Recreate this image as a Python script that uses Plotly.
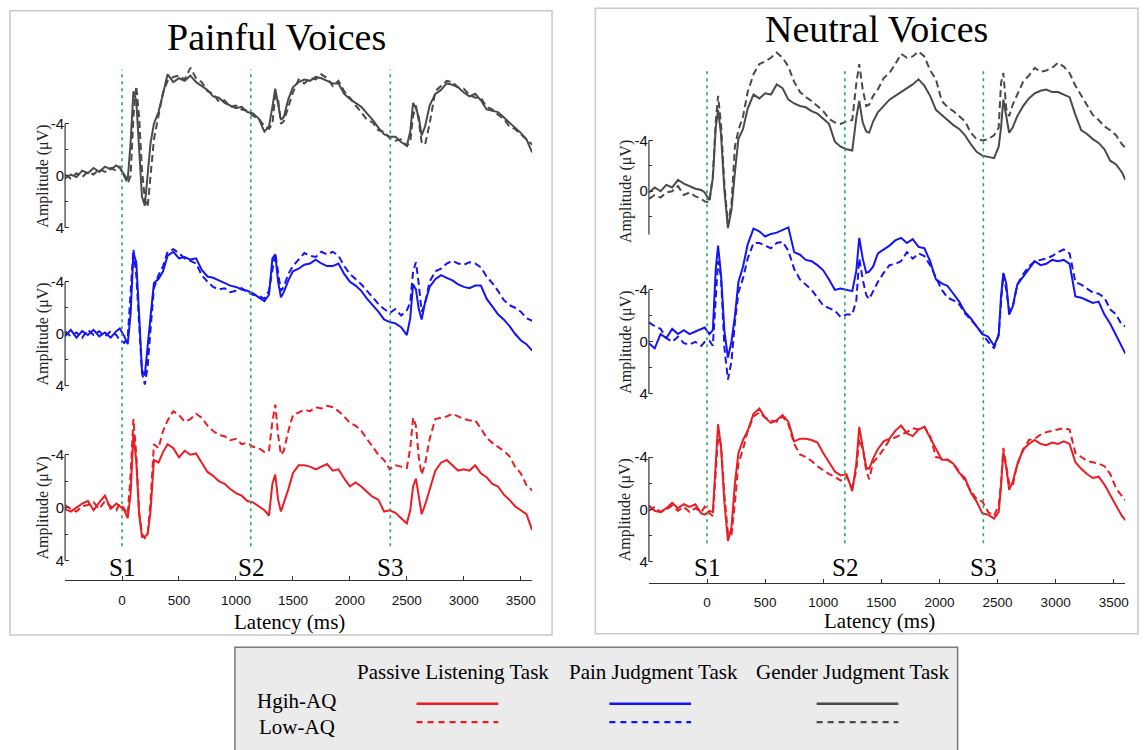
import plotly.graph_objects as go

W, H = 1146, 750

# ---------------- data (latency in ms, amplitude in microvolts) ----------------
T_LEFT = [-500, -450, -400, -350, -300, -250, -200, -150, -100, -50,
          -20, 20, 50, 75, 100, 125, 150, 175, 200, 225,
          250, 280, 320, 360, 400, 450, 500, 550, 600, 650,
          700, 750, 800, 850, 900, 950, 1000, 1050, 1100, 1150,
          1200, 1250, 1290, 1320, 1345, 1370, 1395, 1420, 1460, 1500,
          1550, 1600, 1650, 1700, 1750, 1800, 1850, 1900, 1950, 2000,
          2050, 2100, 2150, 2200, 2250, 2300, 2350, 2400, 2450, 2500,
          2530, 2555, 2580, 2605, 2630, 2660, 2700, 2750, 2800, 2850,
          2900, 2950, 3000, 3050, 3100, 3150, 3200, 3250, 3300, 3350,
          3400, 3450, 3500, 3550, 3600]

T_RIGHT = [-500, -450, -400, -350, -300, -250, -200, -150, -100, -50,
           -20, 20, 50, 75, 95, 120, 150, 180, 210, 240,
           270, 310, 350, 400, 450, 500, 550, 600, 650, 700,
           750, 800, 850, 900, 950, 1000, 1050, 1100, 1150, 1200,
           1250, 1285, 1310, 1340, 1370, 1395, 1430, 1470, 1520, 1570,
           1620, 1670, 1720, 1770, 1820, 1870, 1920, 1970, 2020, 2070,
           2120, 2170, 2220, 2270, 2320, 2370, 2420, 2470, 2510, 2530,
           2550, 2575, 2600, 2630, 2670, 2720, 2770, 2820, 2870, 2920,
           2970, 3020, 3070, 3120, 3170, 3220, 3270, 3320, 3370, 3420,
           3470, 3520, 3570, 3600]

ONSETS_LEFT = [0, 1130, 2355]
ONSETS_RIGHT = [0, 1186, 2378]
ONSET_LABELS = ["S1", "S2", "S3"]

X_RANGE = [-500, 3600]
X_TICKS = [-500, 0, 500, 1000, 1500, 2000, 2500, 3000, 3500, 3600]
X_TICKTEXT = ["", "0", "500", "1000", "1500", "2000", "2500", "3000", "3500", ""]
Y_TICKS = [-4, 0, 4]
Y_TICKTEXT = ["-4", "0", "4"]
Y_MINOR = [-2, 2]

# Painful voices
PAIN_GENDER_HIGH = [0.2, -0.1, 0.1, -0.4, -0.2, -0.6, -0.3, -0.7, -0.5, -0.8,
                    -0.6, -0.1, 0.3, -2.5, -6.5, -5.8, -2.5, 1.6, 2.3, -0.1,
                    -2.5, -4.0, -4.9, -6.3, -7.8, -7.2, -7.5, -7.3, -7.7, -7.2,
                    -6.9, -6.6, -6.1, -6.0, -5.6, -5.4, -5.2, -5.3, -4.9, -4.8,
                    -4.4, -3.4, -3.8, -5.3, -6.7, -5.5, -4.3, -4.5, -5.9, -6.8,
                    -7.2, -7.4, -7.3, -7.6, -7.5, -7.3, -7.1, -7.1, -6.3, -5.9,
                    -5.6, -5.3, -4.8, -4.3, -3.7, -3.2, -3.0, -3.0, -2.6, -2.3,
                    -3.4, -5.6, -5.2, -4.5, -3.1, -3.8, -5.4, -6.3, -6.6, -7.1,
                    -7.0, -6.8, -6.4, -6.1, -6.3, -5.8, -5.1, -5.0, -4.9, -4.5,
                    -4.1, -3.7, -3.3, -2.8, -1.8]
PAIN_GENDER_LOW = [-0.1, 0.2, -0.2, 0.1, -0.3, -0.1, -0.5, -0.3, -0.6, -0.4,
                   -0.7, 0.0, 0.6, 0.0, -4.5, -6.9, -4.5, -0.5, 1.8, 2.4,
                   0.0, -2.8, -4.6, -6.4, -7.3, -7.6, -7.7, -7.4, -8.3, -7.5,
                   -7.2, -6.5, -6.3, -5.7, -5.8, -5.3, -5.4, -5.1, -5.0, -4.6,
                   -4.4, -3.8, -3.6, -4.0, -6.2, -5.9, -4.0, -4.2, -5.3, -6.4,
                   -7.4, -7.1, -7.5, -7.4, -7.8, -7.5, -6.9, -7.3, -6.5, -6.0,
                   -5.4, -4.9, -4.3, -4.1, -3.5, -3.4, -2.9, -2.7, -2.8, -2.3,
                   -2.6, -4.6, -5.4, -4.2, -2.6, -2.4, -4.0, -6.5, -6.9, -7.3,
                   -7.2, -6.8, -6.7, -6.2, -6.0, -6.0, -5.3, -5.1, -4.7, -4.4,
                   -3.8, -3.6, -3.2, -2.8, -2.4]
PAIN_PAIN_HIGH = [0.2, -0.3, 0.3, -0.2, 0.1, -0.3, 0.2, -0.1, 0.3, -0.2,
                  -0.4, 0.2, 0.8, -1.5, -6.2, -5.5, -1.5, 2.8, 3.2, 1.2,
                  -1.3, -3.9, -4.2, -4.8, -6.0, -6.3, -5.8, -5.9, -5.7, -5.8,
                  -4.9, -4.4, -4.3, -4.1, -3.9, -3.7, -3.6, -3.4, -3.3, -3.1,
                  -2.8, -2.5, -3.0, -5.8, -6.1, -4.0, -2.8, -3.2, -4.1, -4.8,
                  -5.0, -5.3, -5.4, -5.7, -5.4, -5.2, -5.2, -5.4, -4.6, -4.0,
                  -3.7, -3.3, -2.7, -2.2, -1.7, -1.1, -0.9, -0.8, -0.5, 0.1,
                  -1.2, -3.8, -3.4, -1.9, -1.1, -2.4, -3.6, -4.2, -4.5, -4.3,
                  -4.1, -3.8, -3.6, -3.5, -3.7, -3.7, -2.7, -2.1, -1.5, -1.1,
                  -0.6, 0.0, 0.5, 0.8, 1.3]
PAIN_PAIN_LOW = [-0.2, 0.2, -0.1, 0.3, -0.3, 0.1, -0.2, 0.2, -0.2, 0.1,
                 0.5, 0.7, 0.3, -3.5, -6.5, -4.5, -0.5, 3.0, 3.9, 2.5,
                 -0.3, -3.5, -4.5, -5.2, -6.3, -6.5, -6.2, -5.8, -5.6, -5.4,
                 -4.5, -4.0, -3.6, -3.4, -3.5, -3.2, -3.3, -3.5, -3.2, -3.0,
                 -2.9, -2.7, -3.3, -5.0, -6.2, -4.7, -3.3, -3.6, -4.6, -5.2,
                 -5.7, -6.2, -6.0, -5.9, -6.3, -6.1, -6.3, -6.0, -5.2, -4.6,
                 -4.2, -3.8, -3.3, -2.8, -2.3, -1.9, -1.6, -1.9, -1.4, -1.8,
                 -2.4, -4.8, -5.5, -3.8, -1.7, -2.3, -4.0, -4.8, -5.0, -5.4,
                 -5.6, -5.4, -5.3, -5.5, -5.4, -5.1, -4.4, -3.9, -3.3, -2.6,
                 -2.2, -2.0, -1.7, -1.2, -1.0]
PAIN_PASSIVE_HIGH = [0.1, 0.3, 0.0, -0.3, -0.5, 0.2, -0.4, -0.9, 0.1, -0.3,
                     -0.1, 0.2, 0.8, -1.0, -5.6, -3.5, 0.5, 2.2, 2.2, 2.0,
                     0.3, -3.6, -3.4, -4.2, -4.8, -4.5, -3.8, -4.3, -4.0, -4.1,
                     -3.4, -2.7, -2.4, -2.0, -1.8, -1.4, -1.1, -0.9, -0.5, -0.4,
                     -0.1, 0.2, 0.6, -1.8, -2.5, -0.6, 0.3, -0.3, -1.4, -2.6,
                     -3.2, -3.2, -3.1, -2.9, -3.1, -3.3, -2.8, -2.9, -2.2, -1.6,
                     -1.9, -1.6, -1.2, -0.8, -0.6, 0.3, 0.2, 0.4, 0.8, 1.2,
                     0.2, -1.6, -2.2, -0.8, 0.5, -0.2, -1.3, -2.8, -3.4, -3.6,
                     -3.2, -2.8, -2.9, -2.8, -3.2, -2.6, -2.3, -1.8, -1.6, -1.0,
                     -0.6, -0.1, 0.2, 0.5, 1.7]
PAIN_PASSIVE_LOW = [-0.2, 0.1, 0.3, -0.1, -0.2, -0.4, 0.1, -0.5, -0.1, 0.2,
                    -0.3, 0.1, 0.5, -2.5, -6.7, -4.0, 0.3, 2.0, 2.3, 2.0,
                    -0.5, -4.8, -4.5, -5.8, -6.6, -7.3, -7.0, -6.5, -6.7, -7.1,
                    -6.8, -6.2, -5.8, -5.5, -5.4, -5.1, -5.2, -4.8, -4.9, -4.6,
                    -4.5, -4.2, -4.3, -6.5, -7.8, -5.5, -4.0, -4.3, -5.8, -7.0,
                    -7.2, -7.4, -7.3, -7.6, -7.5, -7.7, -7.6, -7.3, -6.9, -6.4,
                    -6.2, -5.8, -5.2, -4.6, -4.0, -3.6, -2.9, -3.2, -3.1, -3.0,
                    -4.5, -6.8, -6.2, -3.8, -2.5, -3.3, -5.2, -6.7, -6.8, -6.9,
                    -7.1, -6.9, -6.7, -6.6, -6.6, -6.0, -5.3, -4.9, -4.6, -4.3,
                    -3.9, -3.1, -2.6, -1.7, -1.3]

# Neutral voices
NEUT_GENDER_HIGH = [0.1, -0.3, 0.0, -0.5, -0.3, -0.9, -0.6, -0.4, -0.2, -0.1,
                    0.1, 0.7, -1.0, -5.0, -6.4, -4.5, 0.0, 2.9, 1.5, -1.5,
                    -4.1, -4.9, -6.5, -7.6, -7.3, -7.7, -7.6, -8.4, -8.1, -7.2,
                    -6.9, -6.7, -6.6, -6.3, -6.1, -5.7, -5.3, -3.9, -3.5, -3.3,
                    -3.2, -5.8, -7.1, -5.4, -4.7, -4.6, -5.5, -6.2, -6.7, -7.2,
                    -7.5, -7.8, -8.1, -8.4, -8.8, -8.3, -7.5, -6.4, -6.0, -5.6,
                    -5.2, -4.9, -4.4, -3.7, -3.1, -2.8, -2.7, -2.6, -3.5, -5.0,
                    -7.2, -5.8, -4.6, -5.0, -5.9, -6.7, -7.3, -7.7, -7.9, -8.0,
                    -7.8, -7.8, -7.6, -7.4, -6.0, -4.8, -4.5, -4.1, -3.8, -3.3,
                    -2.4, -2.1, -1.5, -0.9]
NEUT_GENDER_LOW = [0.6, 0.3, 0.5, 0.1, 0.0, -0.4, 0.3, 0.1, 0.4, 0.6,
                   0.8, 0.9, -1.2, -5.5, -7.5, -5.3, -0.5, 2.6, 1.0, -3.5,
                   -4.8, -5.9, -7.8, -9.2, -10.0, -10.2, -10.5, -10.9, -10.5, -9.8,
                   -8.6, -7.8, -7.4, -7.1, -6.7, -6.3, -5.7, -5.4, -5.3, -5.5,
                   -5.6, -8.5, -10.0, -8.0, -6.7, -6.8, -7.5, -8.0, -8.9, -9.3,
                   -10.0, -10.8, -10.5, -10.6, -11.0, -10.6, -9.5, -8.8, -7.1, -6.6,
                   -6.3, -5.9, -5.5, -4.6, -4.1, -4.0, -4.1, -4.4, -5.0, -8.5,
                   -9.3, -6.5, -5.9, -6.8, -7.6, -8.6, -9.1, -9.7, -9.4, -9.5,
                   -9.7, -10.1, -9.8, -9.3, -8.3, -7.5, -6.8, -6.0, -5.6, -5.1,
                   -4.8, -4.4, -3.7, -3.4]
NEUT_PAIN_HIGH = [0.1, 0.5, -0.6, -0.3, -1.0, -0.6, -0.9, -0.6, -0.8, -1.0,
                  -1.1, -0.6, -0.9, -5.6, -7.4, -5.2, -0.8, 1.2, 0.0, -2.0,
                  -4.6, -5.8, -7.5, -8.7, -8.5, -8.1, -8.3, -8.4, -8.6, -8.8,
                  -6.9, -6.7, -6.3, -6.2, -5.9, -5.5, -4.8, -4.0, -4.1, -4.0,
                  -3.9, -5.5, -8.0, -6.4, -5.3, -5.4, -5.8, -6.8, -7.1, -7.4,
                  -7.8, -8.0, -7.6, -7.9, -7.3, -7.2, -6.2, -4.8, -4.5, -4.3,
                  -3.7, -3.1, -2.3, -1.8, -1.2, -0.6, -0.4, 0.3, -0.5, -3.5,
                  -5.3, -4.5, -2.1, -2.7, -4.4, -5.0, -5.6, -6.2, -5.9, -6.0,
                  -6.3, -6.2, -6.3, -6.0, -3.5, -3.4, -3.2, -3.0, -3.1, -2.1,
                  -1.4, -0.5, 0.3, 0.9]
NEUT_PAIN_LOW = [-1.5, -1.2, -1.0, -0.3, 0.0, -0.4, 0.1, 0.2, 0.0, 0.3,
                 0.0, -0.1, 0.3, -3.5, -6.2, -5.0, 0.5, 2.9, 1.5, -1.5,
                 -3.8, -4.9, -6.4, -7.6, -7.6, -7.4, -7.2, -7.6, -7.7, -7.0,
                 -5.6, -4.8, -4.4, -4.0, -3.4, -2.8, -2.6, -2.4, -1.9, -2.1,
                 -2.1, -3.2, -6.4, -4.8, -3.6, -3.3, -3.9, -4.6, -5.3, -5.9,
                 -6.0, -6.2, -6.9, -6.4, -6.8, -6.6, -5.9, -4.9, -4.0, -3.4,
                 -3.2, -2.9, -2.2, -1.7, -1.2, -0.6, 0.0, 0.5, -0.6, -3.0,
                 -5.2, -4.0, -2.4, -2.6, -4.4, -5.2, -5.8, -6.2, -6.3, -6.4,
                 -6.6, -6.9, -7.1, -6.8, -4.6, -4.4, -4.1, -3.8, -3.7, -3.4,
                 -2.5, -2.1, -1.3, -1.2]
NEUT_PASSIVE_HIGH = [-0.3, 0.1, 0.2, -0.1, -0.5, -0.1, -0.4, -0.2, -0.4, 0.3,
                     0.4, 0.1, 0.2, -4.0, -6.5, -4.8, -0.5, 2.4, 1.4, -2.0,
                     -4.3, -5.3, -6.0, -7.3, -7.7, -7.0, -6.6, -6.8, -7.2, -6.7,
                     -5.2, -5.4, -5.4, -5.3, -5.1, -4.3, -3.6, -2.9, -2.6, -2.7,
                     -1.4, -3.5, -6.3, -4.8, -3.2, -3.1, -3.9, -4.6, -5.2, -5.4,
                     -6.0, -6.4, -5.8, -5.6, -6.1, -6.3, -5.5, -4.6, -3.8, -3.8,
                     -3.5, -2.8, -2.4, -1.3, -0.6, 0.3, 0.4, 0.7, 0.2, -1.8,
                     -4.4, -3.2, -1.5, -2.1, -3.4, -4.6, -5.0, -5.3, -5.0, -4.9,
                     -5.1, -5.0, -5.2, -5.0, -3.6, -3.1, -2.7, -2.4, -2.5, -1.9,
                     -1.1, -0.3, 0.5, 0.8]
NEUT_PASSIVE_LOW = [0.1, -0.2, 0.2, 0.0, -0.3, 0.1, -0.2, 0.2, -0.1, 0.2,
                    -0.2, 0.3, 0.5, -2.5, -5.5, -5.0, -1.0, 1.8, 2.0, -0.5,
                    -3.5, -4.6, -6.0, -7.1, -7.4, -7.0, -6.8, -6.7, -7.1, -6.5,
                    -5.0, -4.2, -4.0, -3.7, -3.3, -3.0, -2.7, -2.5, -2.2, -2.5,
                    -1.7, -3.0, -5.4, -4.6, -3.0, -2.3, -3.6, -4.0, -4.6, -5.3,
                    -5.5, -5.7, -5.9, -6.2, -6.1, -6.3, -5.6, -4.0, -3.9, -3.8,
                    -3.5, -2.9, -2.2, -1.4, -0.8, -0.6, 0.2, 0.5, -0.3, -2.0,
                    -4.7, -3.5, -2.0, -1.8, -3.5, -4.5, -5.3, -5.4, -5.7, -5.9,
                    -6.0, -6.1, -6.2, -6.1, -4.3, -4.0, -3.7, -3.6, -3.5, -3.3,
                    -2.7, -1.6, -1.0, -0.7]

PANEL_TITLES = ["Painful Voices", "Neutral Voices"]
TASKS = ["Passive Listening Task", "Pain Judgment Task", "Gender Judgment Task"]
GROUPS = ["Hgih-AQ", "Low-AQ"]

for arr in [PAIN_GENDER_HIGH, PAIN_GENDER_LOW, PAIN_PAIN_HIGH, PAIN_PAIN_LOW,
            PAIN_PASSIVE_HIGH, PAIN_PASSIVE_LOW]:
    assert len(arr) == len(T_LEFT), len(arr)
for arr in [NEUT_GENDER_HIGH, NEUT_GENDER_LOW, NEUT_PAIN_HIGH, NEUT_PAIN_LOW,
            NEUT_PASSIVE_HIGH, NEUT_PASSIVE_LOW]:
    assert len(arr) == len(T_RIGHT), len(arr)

# ---------------- styling ----------------
RED = "#ea1c24"
BLUE = "#1414f5"
GRAY = "#4a4a4a"
GREEN = "#22a861"
AXC = "#333333"
SERIF = "Liberation Serif, Times New Roman, serif"
SANS = "Liberation Sans, Arial, sans-serif"
CURVE_W = 2.0
DASH = "7px,4px"


def px_x(p):
    return p / W


def px_y(p):
    return 1 - p / H


# subplot geometry: (x axis name, px top, px bottom, px of zero, px per microvolt)
ROWS = [
    ("x", 55, 240, 177.0, 13.1),
    ("x", 240, 400, 336.0, 13.1),
    ("x", 400, 584.3, 511.0, 13.3),
    ("x2", 40, 236, 192.5, 12.8),
    ("x2", 226, 400, 344.2, 13.1),
    ("x2", 400, 586.7, 512.9, 13.2),
]
XDOM = {"x": (65.3, 534.0), "x2": (651.2, 1129.3)}

fig = go.Figure()

series = [
    (T_LEFT, PAIN_GENDER_HIGH, PAIN_GENDER_LOW, GRAY),
    (T_LEFT, PAIN_PAIN_HIGH, PAIN_PAIN_LOW, BLUE),
    (T_LEFT, PAIN_PASSIVE_HIGH, PAIN_PASSIVE_LOW, RED),
    (T_RIGHT, NEUT_GENDER_HIGH, NEUT_GENDER_LOW, GRAY),
    (T_RIGHT, NEUT_PAIN_HIGH, NEUT_PAIN_LOW, BLUE),
    (T_RIGHT, NEUT_PASSIVE_HIGH, NEUT_PASSIVE_LOW, RED),
]

layout = dict(
    width=W, height=H, autosize=False,
    margin=dict(l=0, r=0, t=0, b=0),
    paper_bgcolor="white", plot_bgcolor="rgba(0,0,0,0)",
    showlegend=False,
)

shapes = []
annotations = []

for i, ((xa, top, bot, zero, k), (t, hi, lo, col)) in enumerate(zip(ROWS, series)):
    yname = "y" if i == 0 else f"y{i + 1}"
    ykey = "yaxis" if i == 0 else f"yaxis{i + 1}"
    fig.add_trace(go.Scatter(x=t, y=hi, xaxis=xa, yaxis=yname, mode="lines",
                             line=dict(color=col, width=CURVE_W), hoverinfo="skip"))
    fig.add_trace(go.Scatter(x=t, y=lo, xaxis=xa, yaxis=yname, mode="lines",
                             line=dict(color=col, width=CURVE_W, dash=DASH), hoverinfo="skip"))
    layout[ykey] = dict(
        domain=[px_y(bot), px_y(top)],
        range=[(bot - zero) / k, (top - zero) / k],
        anchor=xa, side="left",
        showline=False, showgrid=False, zeroline=False,
        tickvals=Y_TICKS, ticktext=Y_TICKTEXT, ticks="inside", ticklen=4,
        tickcolor=AXC, tickwidth=1,
        tickfont=dict(family=SANS, size=15, color="#111"),
        minor=dict(tickvals=Y_MINOR, ticks="inside", ticklen=3, tickcolor=AXC, tickwidth=1),
    )
    # y axis line spanning -4 .. 4
    shapes.append(dict(type="line", xref=f"{xa} domain", yref=yname,
                       x0=0, x1=0, y0=Y_TICKS[0], y1=Y_TICKS[-1],
                       line=dict(color=AXC, width=1.2)))
    # amplitude label
    annotations.append(dict(text="Amplitude (μV)", textangle=-90, xref="paper", yref=yname,
                            x=px_x(43 if xa == "x" else 628), y=0, showarrow=False,
                            xanchor="center", yanchor="middle",
                            font=dict(family=SERIF, size=16, color="#222")))

for xa, anchor in (("x", "y3"), ("x2", "y6")):
    key = "xaxis" if xa == "x" else "xaxis2"
    layout[key] = dict(
        domain=[px_x(XDOM[xa][0]), px_x(XDOM[xa][1])],
        range=X_RANGE, anchor=anchor,
        showline=True, linecolor=AXC, linewidth=1.2,
        showgrid=False, zeroline=False,
        tickvals=X_TICKS, ticktext=X_TICKTEXT, ticks="inside", ticklen=4,
        tickcolor=AXC, tickwidth=1, ticklabelstandoff=7,
        tickfont=dict(family=SANS, size=13.5, color="#111"),
    )

# onset lines and labels
for xa, onsets, ytop, ybot in (("x", ONSETS_LEFT, 70, 550), ("x2", ONSETS_RIGHT, 68, 547)):
    for lab, on in zip(ONSET_LABELS, onsets):
        shapes.append(dict(type="line", xref=xa, yref="paper", x0=on, x1=on,
                           y0=px_y(ybot), y1=px_y(ytop),
                           line=dict(color=GREEN, width=1.6, dash="3px,4px")))
        annotations.append(dict(text=lab, xref=xa, yref="paper", x=on, y=px_y(571),
                                showarrow=False, xanchor="center", yanchor="middle",
                                font=dict(family=SERIF, size=25, color="black")))

# panel frames
shapes.append(dict(type="rect", xref="paper", yref="paper", x0=px_x(10), x1=px_x(554),
                   y0=px_y(639.3), y1=px_y(10.7), line=dict(color="#c8c8c8", width=1.5),
                   layer="below"))
shapes.append(dict(type="rect", xref="paper", yref="paper", x0=px_x(597.5), x1=px_x(1142),
                   y0=px_y(638), y1=px_y(8.3), line=dict(color="#c8c8c8", width=1.5),
                   layer="below"))

# titles and axis titles
annotations.append(dict(text=PANEL_TITLES[0], xref="paper", yref="paper", x=px_x(277.5), y=px_y(37),
                        showarrow=False, xanchor="center", yanchor="middle",
                        font=dict(family=SERIF, size=38, color="black")))
annotations.append(dict(text=PANEL_TITLES[1], xref="paper", yref="paper", x=px_x(880), y=px_y(29),
                        showarrow=False, xanchor="center", yanchor="middle",
                        font=dict(family=SERIF, size=38, color="black")))
for xpx, ypx in ((291, 626), (883, 625)):
    annotations.append(dict(text="Latency (ms)", xref="paper", yref="paper", x=px_x(xpx), y=px_y(ypx),
                            showarrow=False, xanchor="center", yanchor="middle",
                            font=dict(family=SERIF, size=21, color="black")))

# legend box
shapes.append(dict(type="rect", xref="paper", yref="paper", x0=px_x(235.7), x1=px_x(961),
                   y0=px_y(770), y1=px_y(651.5), fillcolor="#ebebeb",
                   line=dict(color="#7a7a7a", width=1.5), layer="below"))
for txt, xpx in zip(TASKS, (455, 656, 855.5)):
    annotations.append(dict(text=txt, xref="paper", yref="paper", x=px_x(xpx), y=px_y(677),
                            showarrow=False, xanchor="center", yanchor="middle",
                            font=dict(family=SERIF, size=21, color="black")))
for txt, ypx in zip(GROUPS, (706, 732)):
    annotations.append(dict(text=txt, xref="paper", yref="paper", x=px_x(298), y=px_y(ypx),
                            showarrow=False, xanchor="center", yanchor="middle",
                            font=dict(family=SERIF, size=21, color="black")))
for col, x0 in ((RED, 418), (BLUE, 611.5), (GRAY, 819.5)):
    shapes.append(dict(type="line", xref="paper", yref="paper", x0=px_x(x0), x1=px_x(x0 + 82),
                       y0=px_y(708.5), y1=px_y(708.5), line=dict(color=col, width=2.4)))
    shapes.append(dict(type="line", xref="paper", yref="paper", x0=px_x(x0), x1=px_x(x0 + 82),
                       y0=px_y(727), y1=px_y(727), line=dict(color=col, width=2.4, dash="6px,5px")))

layout["shapes"] = shapes
layout["annotations"] = annotations
fig.update_layout(**layout)

fig.write_html("out.html")
